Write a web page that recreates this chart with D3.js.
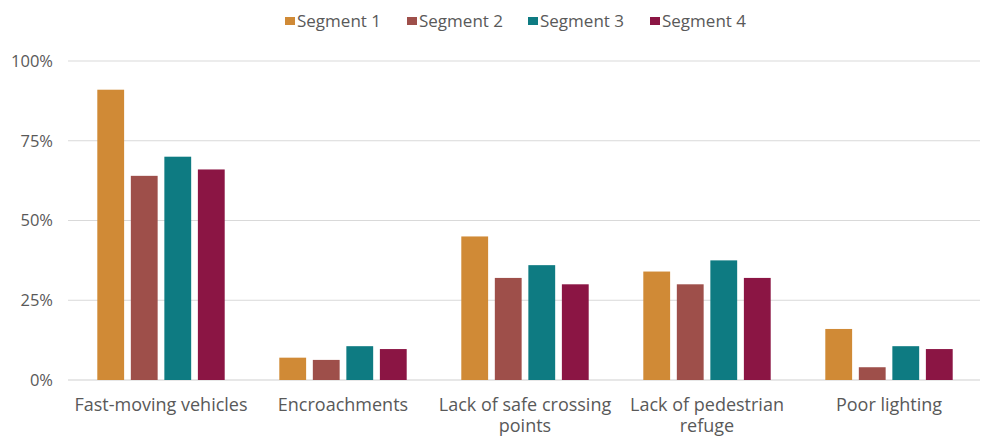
<!DOCTYPE html>
<html><head><meta charset="utf-8">
<script src="https://cdn.jsdelivr.net/npm/d3@7"></script>
<style>body{margin:0;background:#fff;} svg{display:block;} text{font-family:"Open Sans",sans-serif;}</style>
</head><body>
<svg id="chart" width="984" height="436"></svg>
<script>
const categories = ["Fast-moving vehicles","Encroachments","Lack of safe crossing points","Lack of pedestrian refuge","Poor lighting"];
const seriesNames = ["Segment 1","Segment 2","Segment 3","Segment 4"];
const segment1 = [91, 7, 45, 34, 16];
const segment2 = [64, 6.3, 32, 30, 4];
const segment3 = [70, 10.6, 36, 37.5, 10.6];
const segment4 = [66, 9.7, 30, 32, 9.7];
const yTicks = [0, 25, 50, 75, 100];
const colors = ["#D08A36","#9E4F4A","#0E7B82","#8B1544"];

(function() {
const seriesValues = [segment1, segment2, segment3, segment4];
const svg = d3.select("#chart");
const mLeft = 70, mRight = 980, mTop = 61, mBottom = 380;
const x0 = d3.scaleBand().domain(categories).range([mLeft, mRight]).paddingInner(0.3).paddingOuter(0.15);
const x1 = d3.scaleBand().domain(seriesNames).range([0, x0.bandwidth()]).paddingInner(0.2);
const y = d3.scaleLinear().domain([0, 100]).range([mBottom, mTop]);

svg.append("g").selectAll("line").data(yTicks).join("line")
  .attr("x1", mLeft - 2).attr("x2", mRight)
  .attr("y1", d => y(d)).attr("y2", d => y(d))
  .attr("stroke", d => d === 0 ? "#cfcfcf" : "#d9d9d9").attr("stroke-width", 1);

svg.append("g").selectAll("text").data(yTicks).join("text")
  .attr("x", 53).attr("y", d => y(d)).attr("dy", "0.35em")
  .attr("text-anchor", "end").attr("fill", "#595959").attr("font-size", 16.5)
  .text(d => d + "%");

const groups = svg.append("g").selectAll("g").data(categories).join("g")
  .attr("transform", d => `translate(${x0(d)},0)`);
groups.selectAll("rect").data((c, i) => seriesNames.map((s, j) => ({s, j, v: seriesValues[j][i]}))).join("rect")
  .attr("x", d => x1(d.s)).attr("width", x1.bandwidth())
  .attr("y", d => y(d.v)).attr("height", d => y(0) - y(d.v))
  .attr("fill", d => colors[d.j]);

const xl = svg.append("g").selectAll("text").data(categories).join("text")
  .attr("x", d => x0(d) + x0.bandwidth() / 2).attr("y", 411)
  .attr("text-anchor", "middle").attr("fill", "#595959").attr("font-size", 18);
xl.each(function(d) {
  const t = d3.select(this);
  const words = d.split(" ");
  let line = [], lines = [];
  const tmp = t.append("tspan");
  words.forEach(w => {
    const test = line.concat(w).join(" ");
    tmp.text(test);
    if (tmp.node().getComputedTextLength() > 182 && line.length) { lines.push(line.join(" ")); line = [w]; }
    else line.push(w);
  });
  lines.push(line.join(" "));
  tmp.remove();
  lines.forEach((l, i) => t.append("tspan").attr("x", x0(d) + x0.bandwidth() / 2).attr("dy", i ? 21 : 0).text(l));
});

const legX = [285, 407, 528, 650];
const leg = svg.append("g").selectAll("g").data(seriesNames).join("g")
  .attr("transform", (d, i) => `translate(${legX[i]},16)`);
leg.append("rect").attr("y", 1).attr("width", 10).attr("height", 8).attr("fill", (d, i) => colors[i]);
leg.append("text").attr("x", 12).attr("y", 5).attr("dy", "0.35em")
  .attr("fill", "#595959").attr("font-size", 17).text(d => d);
})();
</script>
</body></html>
